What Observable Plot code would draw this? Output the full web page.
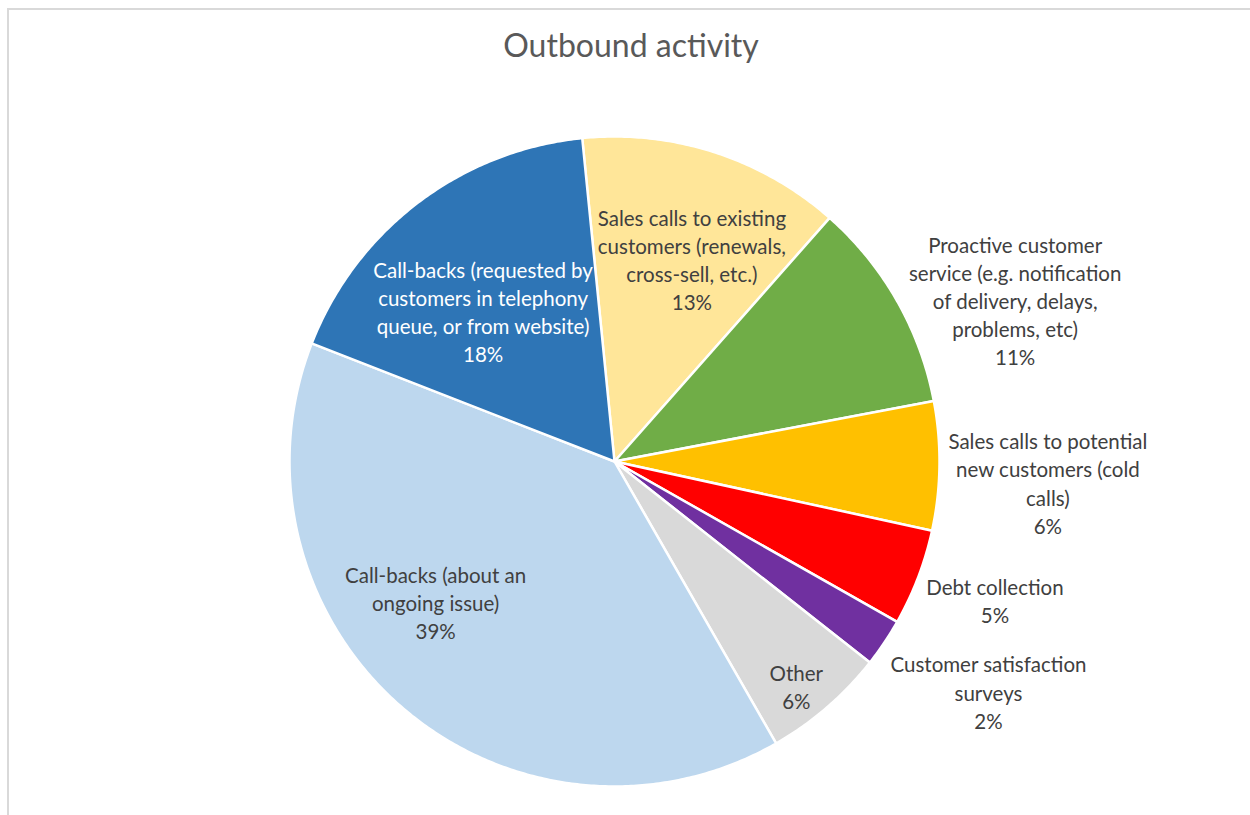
<!DOCTYPE html>
<html><head><meta charset="utf-8">
<script src="https://cdn.jsdelivr.net/npm/d3@7"></script>
<script src="https://cdn.jsdelivr.net/npm/@observablehq/plot@0.6"></script>
<style>
body{margin:0;background:#fff;overflow:hidden;}
#frame{position:absolute;left:7px;top:8px;width:1400px;height:1000px;border-left:2px solid #d9d9d9;border-top:2px solid #d9d9d9;}
#title{position:absolute;top:25px;left:0;width:1262px;text-align:center;font-family:Lato,"Noto Sans",sans-serif;font-size:32px;color:#595959;}
#chart{position:absolute;left:0;top:90px;}
</style></head><body>
<div id="frame"></div>
<div id="title">Outbound activity</div>
<div id="chart"></div>
<script>
const categories = [
  "Sales calls to existing customers (renewals, cross-sell, etc.)",
  "Proactive customer service (e.g. notification of delivery, delays, problems, etc)",
  "Sales calls to potential new customers (cold calls)",
  "Debt collection",
  "Customer satisfaction surveys",
  "Other",
  "Call-backs (about an ongoing issue)",
  "Call-backs (requested by customers in telephony queue, or from website)"
];
const values = [13.1, 10.5, 6.4, 4.8, 2.4, 6.1, 39.2, 17.5];
const percentLabels = ["13%", "11%", "6%", "5%", "2%", "6%", "39%", "18%"];
const wrappedNames = [
  "Sales calls to existing\ncustomers (renewals,\ncross-sell, etc.)",
  "Proactive customer\nservice (e.g. notification\nof delivery, delays,\nproblems, etc)",
  "Sales calls to potential\nnew customers (cold\ncalls)",
  "Debt collection",
  "Customer satisfaction\nsurveys",
  "Other",
  "Call-backs (about an\nongoing issue)",
  "Call-backs (requested by\ncustomers in telephony\nqueue, or from website)"
];
const colors = ["#FFE699", "#70AD47", "#FFC000", "#FF0000", "#7030A0", "#D9D9D9", "#BDD7EE", "#2E75B6"];

// layout (not data): label placement relative to slice mid-angle
const labelShiftDeg = [3, 7.7, 2, -0.9, -2.3, 1.8, 11.1, -3.9];
const labelRadius = [0.668, 1.329, 1.335, 1.246, 1.351, 0.889, 0.70, 0.615];
const labelColors = ["#404040","#404040","#404040","#404040","#404040","#404040","#404040","#FFFFFF"];

const startAngle = -5.7 * Math.PI / 180;
const total = d3.sum(values);
let acc = startAngle;
const slices = values.map((v, i) => {
  const a0 = acc, a1 = acc + v / total * 2 * Math.PI;
  acc = a1;
  return {cat: categories[i], a0, a1, i};
});

const polyPoints = [];
for (const s of slices) {
  polyPoints.push({cat: s.cat, x: 0, y: 0});
  const n = Math.max(2, Math.ceil((s.a1 - s.a0) / (Math.PI / 360)));
  for (let k = 0; k <= n; k++) {
    const a = s.a0 + (s.a1 - s.a0) * k / n;
    polyPoints.push({cat: s.cat, x: Math.sin(a), y: Math.cos(a)});
  }
}

const labelData = slices.map(s => {
  const a = (s.a0 + s.a1) / 2 + labelShiftDeg[s.i] * Math.PI / 180;
  const r = labelRadius[s.i];
  return {text: wrappedNames[s.i] + "\n" + percentLabels[s.i], x: r * Math.sin(a), y: r * Math.cos(a), color: labelColors[s.i]};
});

const R = 325, cx = 614, cy = 371, W = 1250, H = 725;
const plot = Plot.plot({
  width: W, height: H,
  margin: 0,
  x: {domain: [-cx / R, (W - cx) / R], range: [0, W], axis: null},
  y: {domain: [-(H - cy) / R, cy / R], range: [H, 0], axis: null},
  color: {domain: categories, range: colors},
  style: {background: "transparent"},
  marks: [
    Plot.line(polyPoints, {x: "x", y: "y", z: "cat", fill: "cat", stroke: "white", strokeWidth: 2.5, curve: "linear-closed", strokeLinejoin: "round"}),
    Plot.text(labelData, {x: "x", y: "y", text: "text", fill: "color", fontSize: 20.5, lineHeight: 1.37, fontFamily: "Lato, 'Noto Sans', sans-serif", textAnchor: "middle", lineAnchor: "middle"})
  ]
});
document.getElementById("chart").appendChild(plot);
</script>
</body></html>
